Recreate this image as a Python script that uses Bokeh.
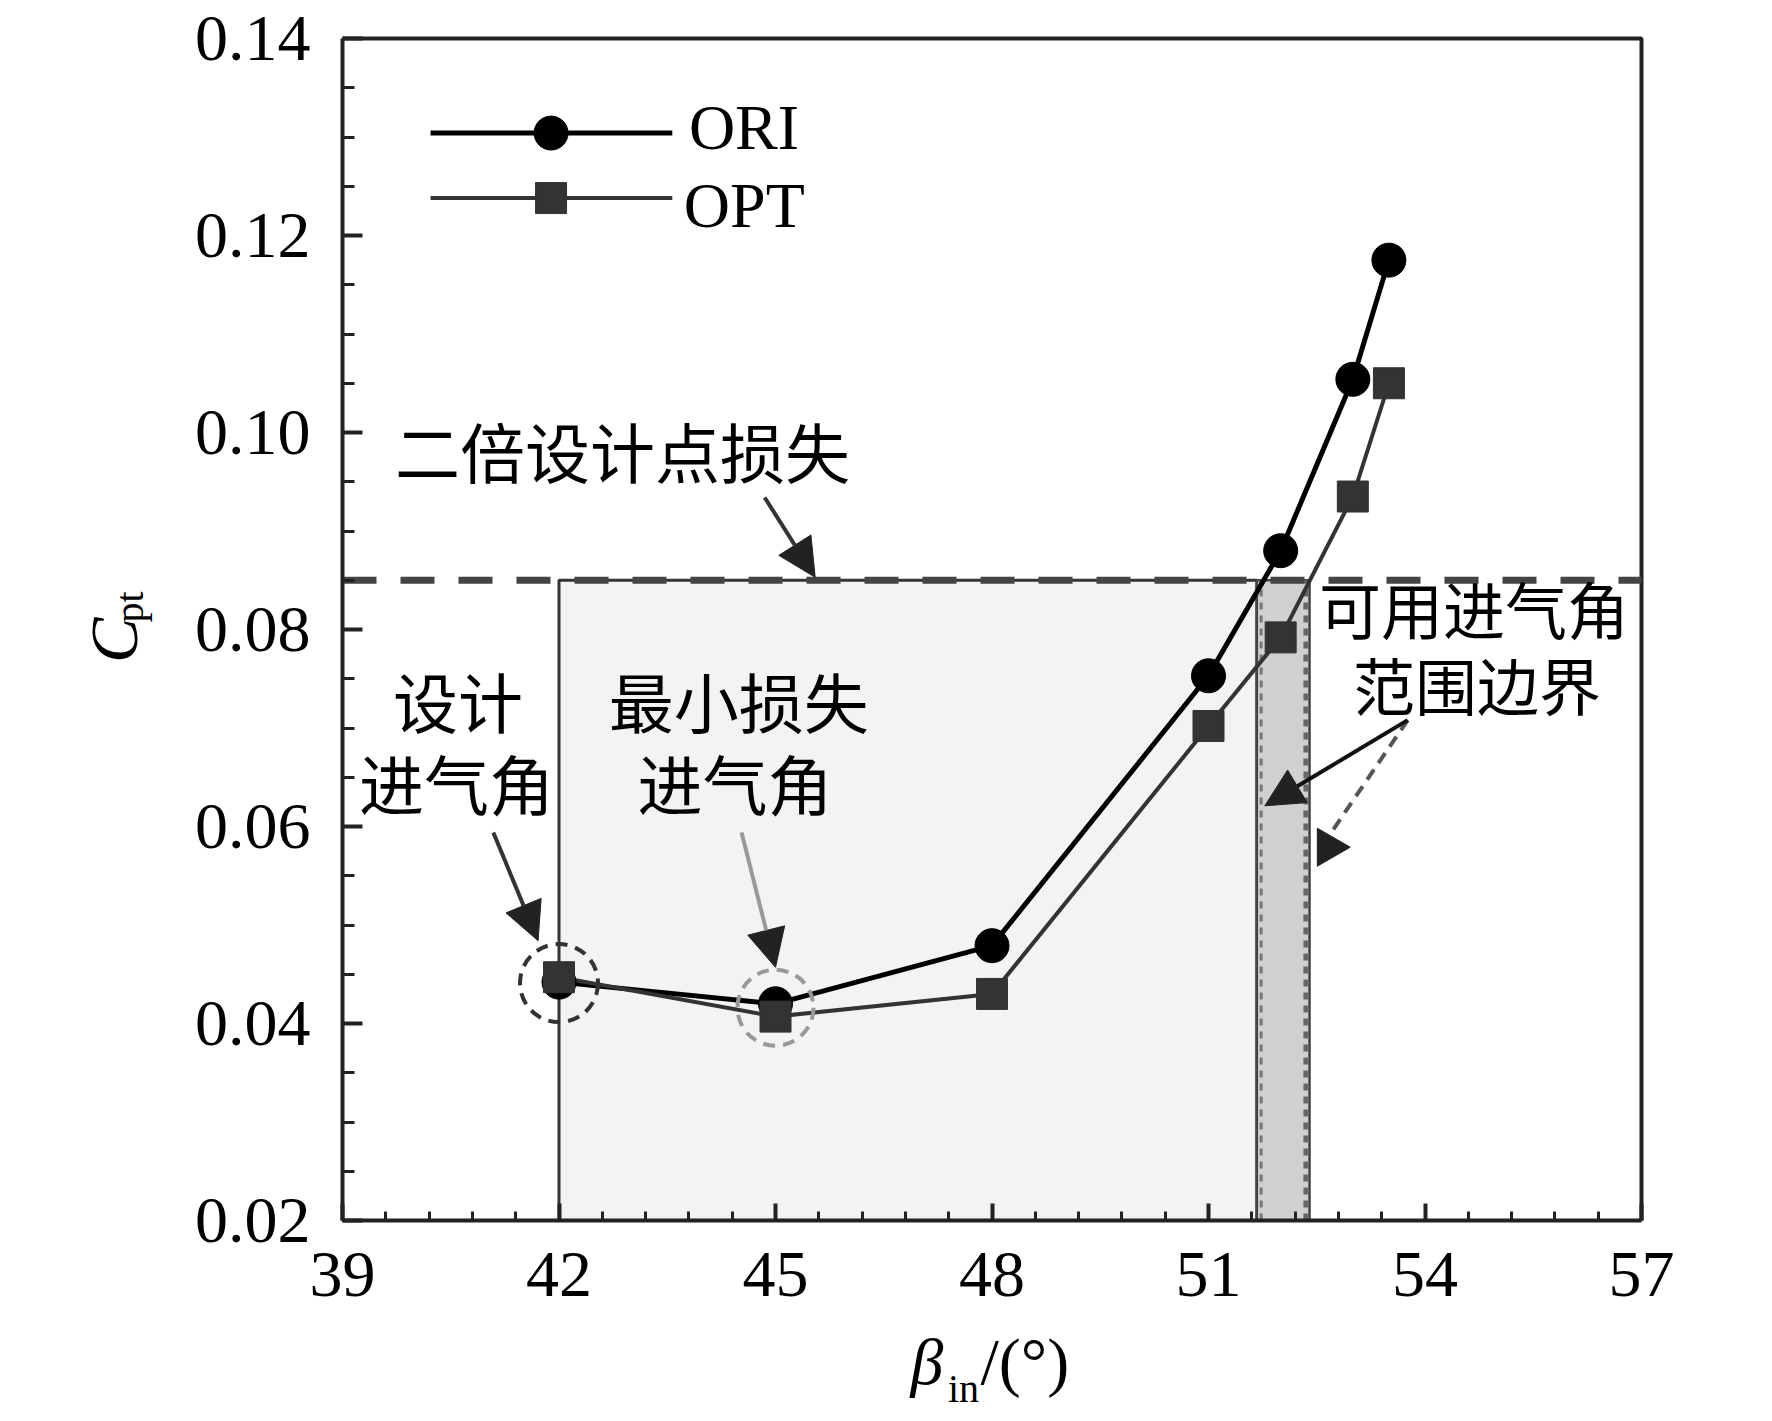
import numpy as np
from bokeh.plotting import figure
from bokeh.models import FixedTicker, Arrow, NormalHead, Label, NumeralTickFormatter
from bokeh.embed import file_html
from bokeh.resources import INLINE

# ---------------- data ----------------
beta_in = [42, 45, 48, 51, 52, 53, 53.5]
cpt_ori = [0.0442, 0.0420, 0.0479, 0.0753, 0.0880, 0.1054, 0.1175]
cpt_opt = [0.0447, 0.0407, 0.0430, 0.0702, 0.0792, 0.0935, 0.1050]

x_ticks = [39, 42, 45, 48, 51, 54, 57]
x_tick_labels = ["39", "42", "45", "48", "51", "54", "57"]
y_ticks = [0.02, 0.04, 0.06, 0.08, 0.10, 0.12, 0.14]
y_tick_labels = ["0.02", "0.04", "0.06", "0.08", "0.10", "0.12", "0.14"]

loss_limit = 0.085          # twice design-point loss
design_beta = 42
min_loss_beta = 45
design_cpt = 0.0441
min_loss_cpt = 0.0416
range_low = 51.67
range_high = 52.40

SERIF = "Liberation Serif"
CJK = "Noto Sans CJK SC"

# ---------------- layout (axes drawn at fixed locations inside a full-canvas frame) ----------------
W, H = 1770, 1418
AX_L, AX_R, AX_T, AX_B = 342, 1641, 38, 1220      # axis box in canvas pixels
XMIN, XMAX, YMIN, YMAX = 39, 57, 0.02, 0.14
kx = (AX_R - AX_L) / (XMAX - XMIN)
ky = (AX_B - AX_T) / (YMAX - YMIN)
x_range = (XMIN - AX_L / kx, XMAX + (W - AX_R) / kx)
y_range = (YMIN - (H - AX_B) / ky, YMAX + AX_T / ky)

p = figure(width=W, height=H, min_border=0,
           x_range=x_range, y_range=y_range,
           output_backend="svg", toolbar_location=None)
p.xgrid.visible = False
p.ygrid.visible = False
p.outline_line_color = None
p.background_fill_color = "white"
p.border_fill_color = "white"

p.xaxis.fixed_location = YMIN
p.yaxis.fixed_location = XMIN
p.xaxis.bounds = (XMIN, XMAX)
p.yaxis.bounds = (YMIN, YMAX)

p.xaxis.ticker = FixedTicker(ticks=x_ticks,
                             minor_ticks=[round(39 + 0.6 * i, 2) for i in range(31)])
p.yaxis.ticker = FixedTicker(ticks=y_ticks,
                             minor_ticks=[round(0.02 + 0.005 * i, 3) for i in range(25)])
p.xaxis.formatter = NumeralTickFormatter(format="0")
p.yaxis.formatter = NumeralTickFormatter(format="0.00")
p.xaxis.major_label_overrides = dict(zip(x_ticks, x_tick_labels))
p.yaxis.major_label_overrides = dict(zip(y_ticks, y_tick_labels))

for ax in (p.xaxis[0], p.yaxis[0]):
    ax.axis_line_color = "#222222"
    ax.axis_line_width = 4
    ax.major_tick_line_color = "#222222"
    ax.minor_tick_line_color = "#222222"
    ax.major_tick_line_width = 4
    ax.minor_tick_line_width = 3
    ax.major_tick_out = 0
    ax.minor_tick_out = 0
    ax.major_label_text_font = SERIF
    ax.major_label_text_font_size = "66px"
    ax.major_label_text_color = "black"

p.yaxis.major_tick_in = 20
p.yaxis.minor_tick_in = 12
p.xaxis.major_tick_in = 17
p.xaxis.minor_tick_in = 9
p.yaxis.major_label_standoff = 32
p.xaxis.major_label_standoff = 32

# top and right frame lines
p.line([XMIN, XMAX, XMAX], [YMAX, YMAX, YMIN], line_color="#222222", line_width=4)

# ---------------- shaded regions ----------------
p.quad(left=[design_beta], right=[range_low], bottom=[YMIN], top=[loss_limit],
       fill_color="#f3f3f3", line_color="#333333", line_width=3)
p.quad(left=[range_low], right=[range_high], bottom=[YMIN], top=[loss_limit],
       fill_color="#d0d0d0", line_color="#444444", line_width=2.5)
p.segment(x0=[range_low + 0.06, range_high - 0.05], y0=[YMIN, YMIN],
          x1=[range_low + 0.06, range_high - 0.05], y1=[loss_limit, loss_limit],
          line_color=["#777777", "#666666"], line_width=[3, 5], line_dash="7 6")

# twice-design-loss line
p.line([XMIN, XMAX], [loss_limit, loss_limit], line_color="#444444",
       line_width=7, line_dash="34 24")

# ---------------- series ----------------
p.line(beta_in, cpt_ori, line_color="black", line_width=5)
p.line(beta_in, cpt_opt, line_color="#333333", line_width=4)
p.scatter(beta_in, cpt_ori, marker="circle", size=34, fill_color="black", line_color="black")
p.scatter(beta_in, cpt_opt, marker="square", size=31, fill_color="#333333", line_color="#333333")

# dashed highlight circles
p.scatter([design_beta], [design_cpt], marker="circle", size=78, fill_alpha=0,
          line_color="#333333", line_width=4, line_dash="12 8")
p.scatter([min_loss_beta], [min_loss_cpt], marker="circle", size=76, fill_alpha=0,
          line_color="#999999", line_width=4, line_dash="12 8")

# ---------------- legend (drawn) ----------------
leg_x0, leg_x1, leg_xm = 40.22, 43.57, 41.89
p.line([leg_x0, leg_x1], [0.1304, 0.1304], line_color="black", line_width=5)
p.scatter([leg_xm], [0.1304], marker="circle", size=34, fill_color="black", line_color="black")
p.line([leg_x0, leg_x1], [0.1238, 0.1238], line_color="#333333", line_width=4)
p.scatter([leg_xm], [0.1238], marker="square", size=31, fill_color="#333333", line_color="#333333")
p.add_layout(Label(x=43.80, y=0.1310, text="ORI", text_font=SERIF, text_font_size="64px",
                   text_align="left", text_baseline="alphabetic", text_color="black"))
p.add_layout(Label(x=43.73, y=0.1230, text="OPT", text_font=SERIF, text_font_size="64px",
                   text_align="left", text_baseline="alphabetic", text_color="black"))

# ---------------- annotations ----------------
def cjk(x, y, t, size="65px"):
    p.add_layout(Label(x=x, y=y, text=t, text_font=CJK, text_font_size=size,
                       text_align="center", text_baseline="middle", text_color="black"))

cjk(42.88, 0.0982, "二倍设计点损失")
cjk(40.60, 0.0728, "设计")
cjk(40.58, 0.0645, "进气角")
cjk(44.49, 0.0728, "最小损失")
cjk(44.44, 0.0645, "进气角")
cjk(54.68, 0.0822, "可用进气角", "62px")
cjk(54.72, 0.0745, "范围边界", "62px")

def arrow(xs, ys, xe, ye, color="#333333", dash="solid"):
    p.add_layout(Arrow(end=NormalHead(size=38, fill_color="#222222", line_color="#222222"),
                       x_start=xs, y_start=ys, x_end=xe, y_end=ye,
                       line_color=color, line_width=4, line_dash=dash))

arrow(44.85, 0.0934, 45.55, 0.0853)
arrow(41.09, 0.0594, 41.71, 0.0484)
arrow(44.53, 0.0594, 45.00, 0.0457, color="#999999")
arrow(53.76, 0.0708, 51.78, 0.0621, color="#111111")
# dashed boundary arrow with a right-pointing head
p.segment(x0=[53.76], y0=[0.0708], x1=[52.72], y1=[0.0596],
          line_color="#555555", line_width=4, line_dash="12 8")
p.scatter([52.66], [0.0579], marker="triangle", size=38, angle=-np.pi / 2,
          fill_color="#222222", line_color="#222222")

# ---------------- axis titles ----------------
p.add_layout(Label(x=35.83, y=0.0766, text="C", angle=np.pi / 2, text_font=SERIF,
                   text_font_style="italic", text_font_size="68px",
                   text_align="left", text_baseline="alphabetic", text_color="black"))
p.add_layout(Label(x=36.05, y=0.0807, text="pt", angle=np.pi / 2, text_font=SERIF,
                   text_font_size="40px",
                   text_align="left", text_baseline="alphabetic", text_color="black"))
p.add_layout(Label(x=46.87, y=0.00568, text="β", text_font=SERIF,
                   text_font_style="italic", text_font_size="66px",
                   text_align="left", text_baseline="alphabetic", text_color="black"))
p.add_layout(Label(x=47.39, y=0.00295, text="in", text_font=SERIF,
                   text_font_size="40px",
                   text_align="left", text_baseline="alphabetic", text_color="black"))
p.add_layout(Label(x=47.84, y=0.00568, text="/(°)", text_font=SERIF,
                   text_font_size="66px",
                   text_align="left", text_baseline="alphabetic", text_color="black"))

open("out.html", "w").write(file_html(p, INLINE))
